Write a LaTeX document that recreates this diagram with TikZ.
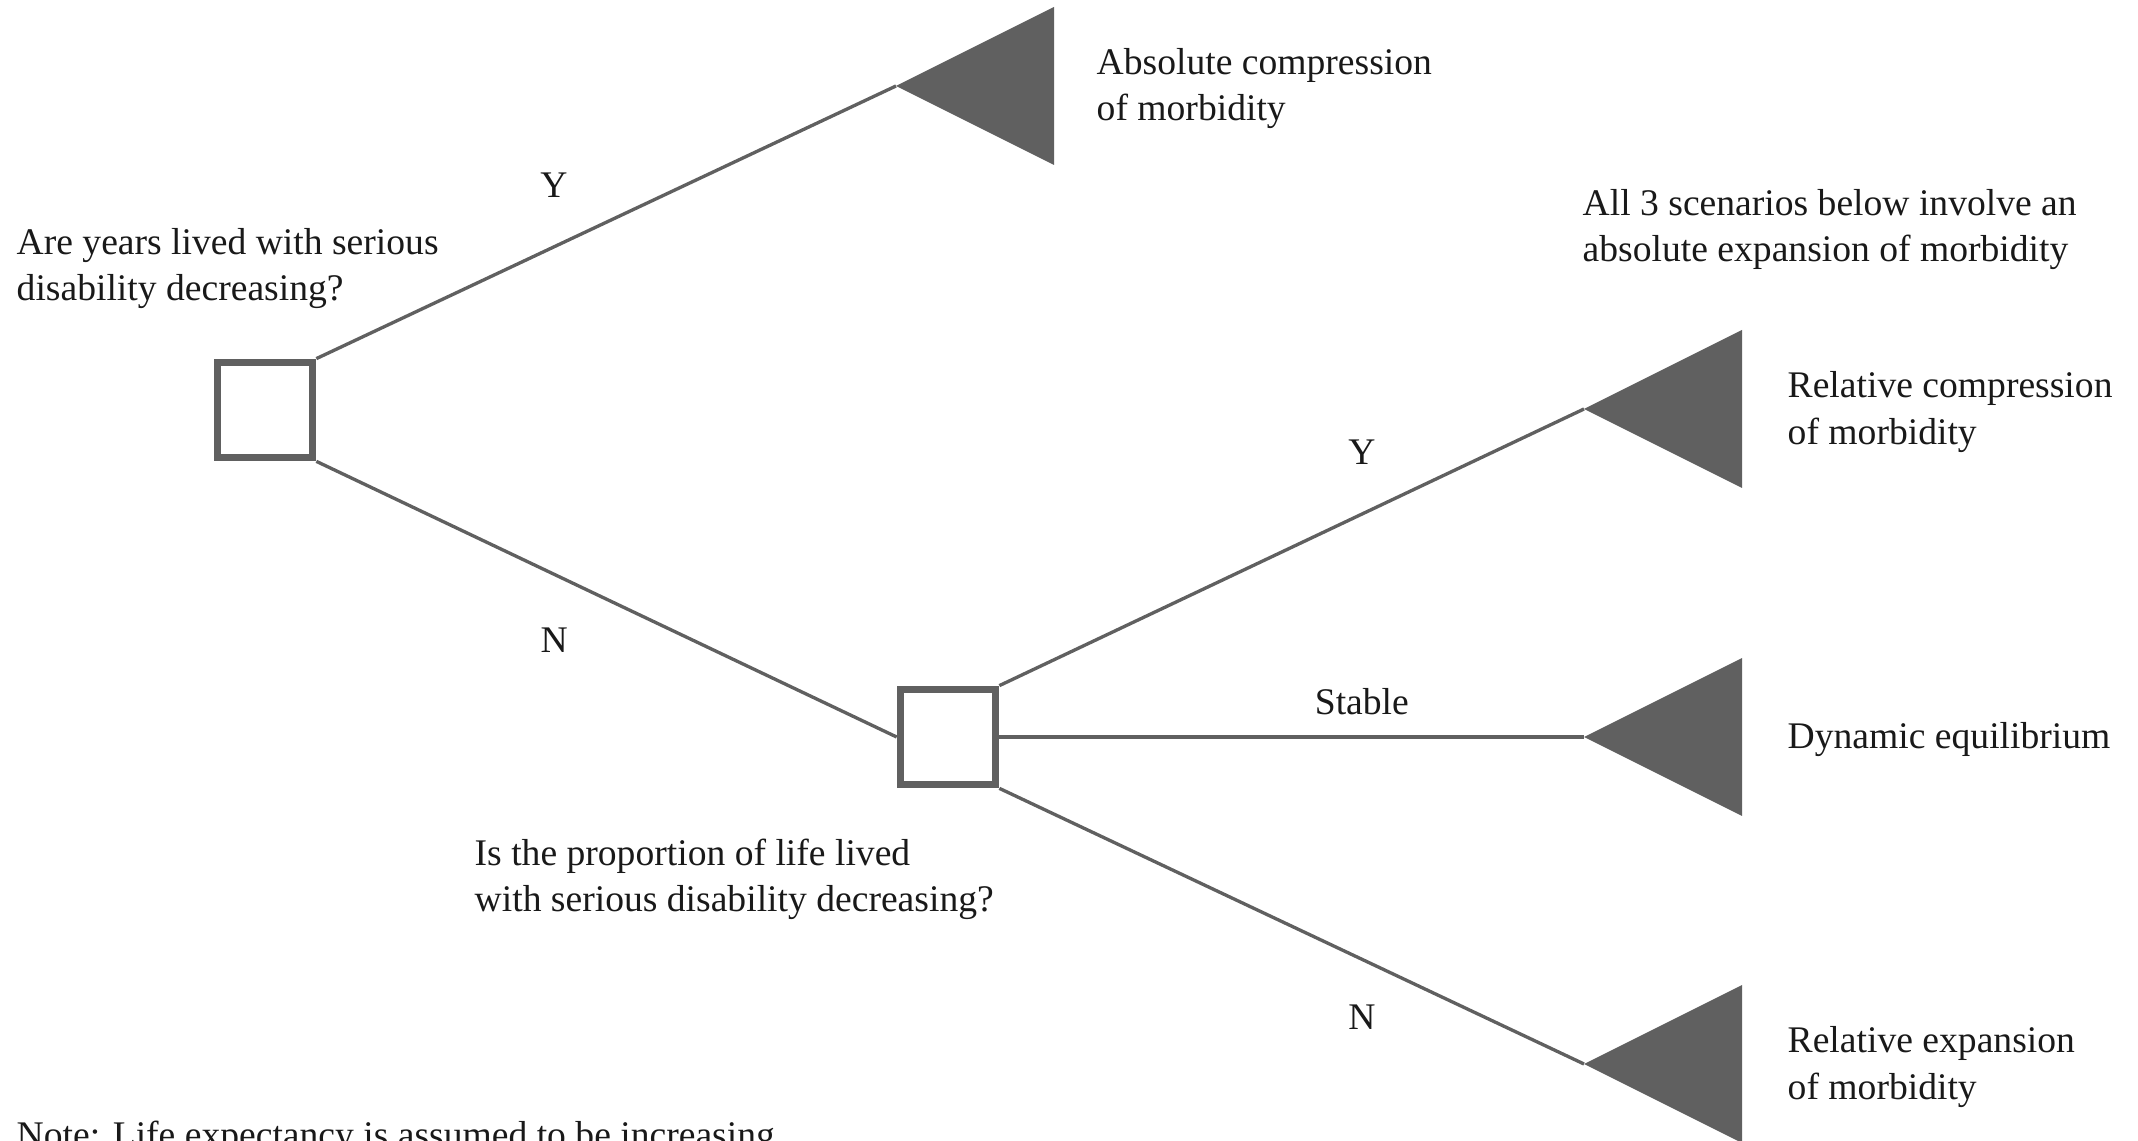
\documentclass[tikz,border=0pt]{standalone}
\usepackage{fontspec}
\setmainfont{Liberation Serif}
\usetikzlibrary{shapes.geometric,positioning}
\definecolor{treegray}{HTML}{606060}
\tikzstyle{choice}=[rectangle,draw=treegray,line width=2.2pt,fill=white,minimum size=0.95cm,inner sep=0pt,outer sep=1.1pt]
\tikzstyle{leaf}=[isosceles triangle,isosceles triangle stretches,shape border rotate=180,fill=treegray,minimum width=1.58cm,minimum height=1.58cm,inner sep=0pt,outer sep=0pt]
\tikzstyle{txt}=[align=left,inner sep=0pt,yshift=-0.03cm,text=black!90,font=\fontsize{10.7}{13.1}\selectfont]
\tikzstyle{lbl}=[inner sep=0pt,text=black!90,font=\fontsize{10.7}{13.1}\selectfont]
\tikzstyle{branch}=[draw=treegray,line width=0.95pt]

\begin{document}
\begin{tikzpicture}
\useasboundingbox (0,0) rectangle (21.38,-11.41);
% decision boxes
\node[choice] (Q1) at (2.65,-4.10) {};
\node[choice] (Q2) at (9.48,-7.37) {};
% outcomes
\node[leaf,anchor=apex] (T1) at (8.96,-0.86) {};
\node[leaf,anchor=apex] (T2) at (15.84,-4.09) {};
\node[leaf,anchor=apex] (T3) at (15.84,-7.37) {};
\node[leaf,anchor=apex] (T4) at (15.84,-10.64) {};
% texts
\node[txt,anchor=west] (q1txt) at (0.16,-2.66) {Are years lived with serious\\disability decreasing?};
\node[txt,anchor=west] (q2txt) at (4.74,-8.76) {Is the proportion of life lived\\with serious disability decreasing?};
\node[txt,anchor=west] (alltxt) at (15.82,-2.265) {All 3 scenarios below involve an\\absolute expansion of morbidity};
\node[txt,right=0.42cm of T1.lower side] (o1) {Absolute compression\\of morbidity};
\node[txt,right=0.45cm of T2.lower side] (o2) {Relative compression\\of morbidity};
\node[txt,right=0.45cm of T3.lower side] (o3) {Dynamic equilibrium};
\node[txt,right=0.45cm of T4.lower side] (o4) {Relative expansion\\of morbidity};
\node[txt,anchor=base west] (note) at (0.16,-11.45) {Note: Life expectancy is assumed to be increasing};
% branches
\draw[branch] (Q1.north east) -- node[lbl,pos=0.41,yshift=0.62cm] (y1) {Y} (T1.apex);
\draw[branch] (Q1.south east) -- node[lbl,pos=0.41,yshift=-0.66cm] (n1) {N} (Q2.west);
\draw[branch] (Q2.north east) -- node[lbl,pos=0.62,yshift=0.62cm] (y2) {Y} (T2.apex);
\draw[branch] (Q2.east) -- node[lbl,pos=0.62,yshift=0.35cm] (s2) {Stable} (T3.apex);
\draw[branch] (Q2.south east) -- node[lbl,pos=0.62,yshift=-0.58cm] (n2) {N} (T4.apex);
\end{tikzpicture}
\end{document}
